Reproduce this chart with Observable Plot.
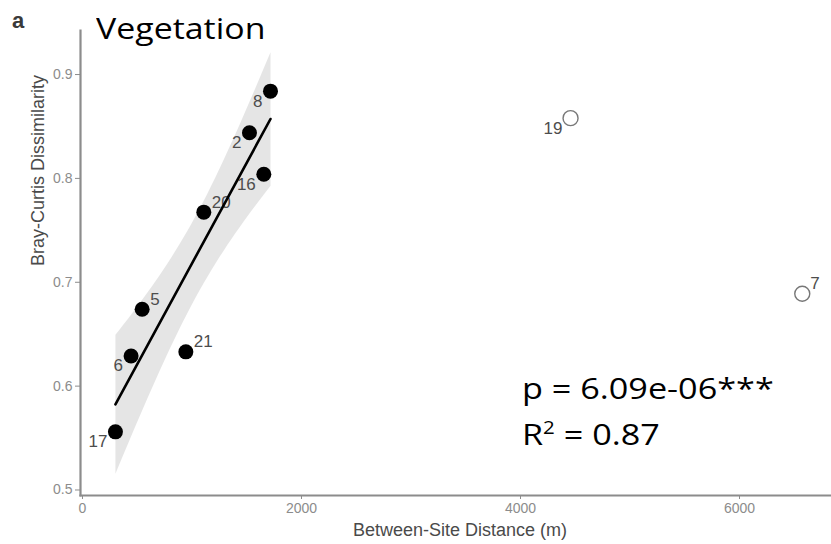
<!DOCTYPE html>
<html>
<head>
<meta charset="utf-8">
<script src="https://cdn.jsdelivr.net/npm/d3@7"></script>
<script src="https://cdn.jsdelivr.net/npm/@observablehq/plot@0.6"></script>
<style>
  html, body { margin: 0; padding: 0; background: white; }
  #wrap { position: relative; width: 831px; height: 544px; overflow: hidden; }
  #wrap svg { position: absolute; left: 0; top: 0; }
  .ov { position: absolute; white-space: nowrap; line-height: 1; }
  #tag { left: 12px; top: 8px; font: bold 22px "Liberation Sans", Arial, sans-serif; color: #3a3a3a; }
  #title { left: 96px; top: 7px; font: 30px "Open Sans", sans-serif; color: #000; transform: scaleX(1.13); transform-origin: left top; }
  #stats { left: 522px; top: 365px; font: 30px "Open Sans", sans-serif; color: #000; line-height: 46px; transform: scaleX(1.14); transform-origin: left top; }
  #stats sup { font-size: 0.6em; vertical-align: baseline; position: relative; top: -0.62em; }
</style>
</head>
<body>
<div id="wrap">
  <div class="ov" id="tag">a</div>
  <div class="ov" id="title">Vegetation</div>
  <div class="ov" id="stats">p = 6.09e-06***<br>R<sup>2</sup> = 0.87</div>
</div>
<script>
// ---- data ----
const sites = ["8", "2", "16", "20", "5", "6", "21", "17", "19", "7"];
const distance = [1717, 1525, 1656, 1108, 545, 444, 944, 301, 4457, 6573];
const dissimilarity = [0.884, 0.844, 0.804, 0.7675, 0.674, 0.629, 0.633, 0.556, 0.858, 0.689];
const excluded = [false, false, false, false, false, false, false, false, true, true];
const xTicks = [0, 2000, 4000, 6000];
const yTicks = [0.5, 0.6, 0.7, 0.8, 0.9];
const upperRightLabels = ["20", "5", "21", "7"];

const rows = sites.map((s, i) => ({site: s, distance: distance[i], dissimilarity: dissimilarity[i], excluded: excluded[i]}));
const fitted = rows.filter(d => !d.excluded);
const outliers = rows.filter(d => d.excluded);
const labelsUR = rows.filter(d => upperRightLabels.includes(d.site));
const labelsLL = rows.filter(d => !upperRightLabels.includes(d.site));

const axisGrey = "#8c8c8c";
const chart = Plot.plot({
  width: 831,
  height: 544,
  marginLeft: 80,
  marginRight: 0,
  marginTop: 30,
  marginBottom: 49,
  x: {domain: [-18, 6840]},
  y: {domain: [0.4947, 0.9424]},
  style: {fontFamily: "'Liberation Sans', Arial, sans-serif", background: "white", overflow: "visible"},
  marks: [
    Plot.linearRegressionY(fitted, {x: "distance", y: "dissimilarity", stroke: "none", fill: "#999", fillOpacity: 0.25, ci: 0.95}),
    Plot.frame({anchor: "left", stroke: axisGrey, strokeWidth: 2.2}),
    Plot.frame({anchor: "bottom", stroke: axisGrey, strokeWidth: 2.2}),
    Plot.axisY({ticks: yTicks, tickSize: 5, tickPadding: 3, fontSize: 14, color: axisGrey, label: null, tickFormat: d => d.toFixed(1)}),
    Plot.axisX({ticks: xTicks, tickSize: 4, tickPadding: 4, fontSize: 14, color: axisGrey, label: null, tickFormat: d => String(d)}),
    Plot.dot(outliers, {x: "distance", y: "dissimilarity", r: 7.5, stroke: "#777", strokeWidth: 1.4, fill: "white"}),
    Plot.dot(fitted, {x: "distance", y: "dissimilarity", r: 7.5, fill: "black"}),
    Plot.text(labelsLL, {x: "distance", y: "dissimilarity", text: "site", textAnchor: "end", dx: -8, dy: 10, fontSize: 17, fill: "#4d4d4d"}),
    Plot.text(labelsUR, {x: "distance", y: "dissimilarity", text: "site", textAnchor: "start", dx: 8, dy: -10, fontSize: 17, fill: "#4d4d4d"}),
    Plot.linearRegressionY(fitted, {x: "distance", y: "dissimilarity", stroke: "black", strokeWidth: 2.6, ci: 0}),
    Plot.text(["Between-Site Distance (m)"], {frameAnchor: "bottom", lineAnchor: "middle", dx: 4, dy: 35, fontSize: 18, fill: "#4a4a4a"}),
    Plot.text(["Bray-Curtis Dissimilarity"], {frameAnchor: "left", lineAnchor: "middle", rotate: -90, dx: -42, dy: 3, fontSize: 18, fill: "#4a4a4a"})
  ]
});
document.getElementById("wrap").prepend(chart);
</script>
</body>
</html>
